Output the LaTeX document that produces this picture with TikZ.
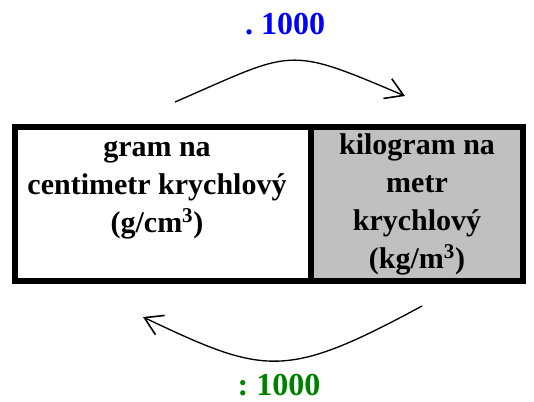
\documentclass[tikz,border=0pt]{standalone}
\usepackage{fontspec}
\setmainfont{Liberation Serif}
\usetikzlibrary{arrows.meta}
\definecolor{cellgray}{RGB}{192,192,192}
\definecolor{lblblue}{RGB}{0,0,255}
\definecolor{lblgreen}{RGB}{0,128,0}
\begin{document}
\begin{tikzpicture}[x=0.75pt,y=-0.75pt,
  cell/.style={draw=black, line width=4.5pt, inner sep=0pt, anchor=north west, minimum height=115.5pt},
  celltext/.style={font=\fontsize{22.5}{28.5}\selectfont\bfseries, align=center, inner sep=0pt},
  lbl/.style={font=\fontsize{24}{28}\selectfont\bfseries, inner sep=0pt},
  conv/.style={line width=1pt, -{Straight Barb[length=13pt,width=16pt,line width=1.2pt]}}]
\useasboundingbox (0,0) rectangle (534,401);
% cells
\node[cell, fill=white, minimum width=222.4pt] (left) at (11.5,123.5) {};
\node[cell, fill=cellgray, minimum width=159pt] (right) at (308,123.5) {};
% cell texts
\node[celltext] (lt) at (157,190) {gram na\\centimetr krychlový\\(g/cm\textsuperscript{3})};
\node[celltext] (rt) at (417,204) {kilogram na\\metr\\krychlový\\(kg/m\textsuperscript{3})};
% labels
\node[lbl, text=lblblue] (mul) at (285,24) {.\ 1000};
\node[lbl, text=lblgreen] (dv) at (279,385) {:\ 1000};
% arrows
\coordinate (a1) at (175,102);
\coordinate (a2) at (405,96);
\coordinate (b1) at (422,306);
\coordinate (b2) at (143,317);
\draw[conv] (a1) .. controls (295,50) and (285,45) .. (a2);
\draw[conv] (b1) .. controls (285,380) and (265,375) .. (b2);
\end{tikzpicture}
\end{document}
